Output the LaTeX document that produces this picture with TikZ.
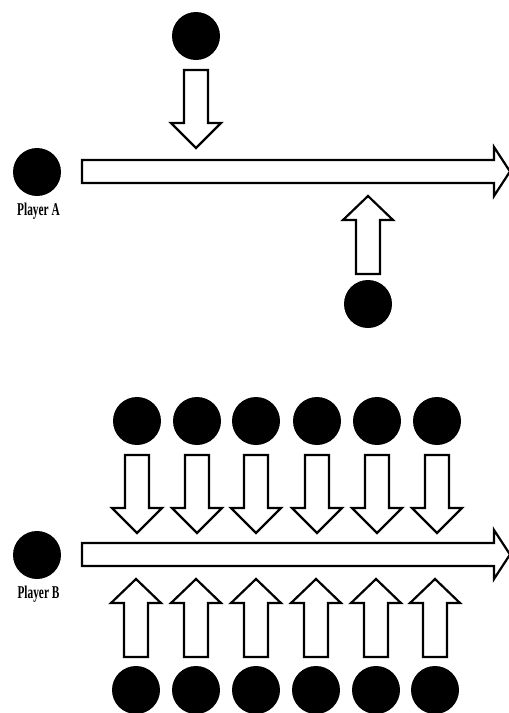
\documentclass[tikz,border=0pt]{standalone}
\usepackage{fontspec}
\setmainfont{Liberation Serif}
\newcommand{\condtxt}[1]{\scalebox{0.63}[1]{\bfseries\fontsize{18}{18}\selectfont #1}}
\begin{document}
\begin{tikzpicture}[x=1pt,y=-1pt,
  ball/.style={circle,fill=black,inner sep=0pt,minimum size=48pt},
  lbl/.style={inner sep=0pt,anchor=base},
  blk/.style={draw=black,fill=white,line width=2.2pt,line join=miter},
  pics/dnarrow/.style={code={
    \draw[blk] (-12,0) -- (12,0) -- (12,53) -- (25,53) -- (0,78) -- (-25,53) -- (-12,53) -- cycle;}},
  pics/uparrow/.style={code={
    \draw[blk] (-12,0) -- (12,0) -- (12,-54) -- (25,-54) -- (0,-78) -- (-25,-54) -- (-12,-54) -- cycle;}},
  pics/mainarrow/.style={code={
    \draw[blk] (0,-11.5) -- (412,-11.5) -- (412,-24.5) -- (428,0) -- (412,24.5) -- (412,11.5) -- (0,11.5) -- cycle;}}
]
\useasboundingbox (0,0) rectangle (509,713);

% ---------- top section ----------
\node[ball] (pa) at (37,172) {};
\node[lbl] (pal) at (38.5,215.5) {\condtxt{Player A}};
\node[ball] (t1) at (196,36) {};
\node[ball] (b1) at (368,304) {};
\pic at (82,171.5) {mainarrow};
\pic at (196,70) {dnarrow};
\pic at (368,274) {uparrow};

% ---------- bottom section ----------
\node[ball] (pb) at (37,555) {};
\node[lbl] (pbl) at (38.5,598.5) {\condtxt{Player B}};
\pic at (82,554.5) {mainarrow};
\foreach \i/\x in {1/137,2/197,3/256,4/317,5/377,6/437}{
  \node[ball] (u\i) at (\x,421) {};
  \pic at (\x,455) {dnarrow};
}
\foreach \i/\x in {1/136,2/196,3/256,4/316,5/376,6/435}{
  \node[ball] (d\i) at (\x,690) {};
  \pic at (\x,657) {uparrow};
}
\end{tikzpicture}
\end{document}
